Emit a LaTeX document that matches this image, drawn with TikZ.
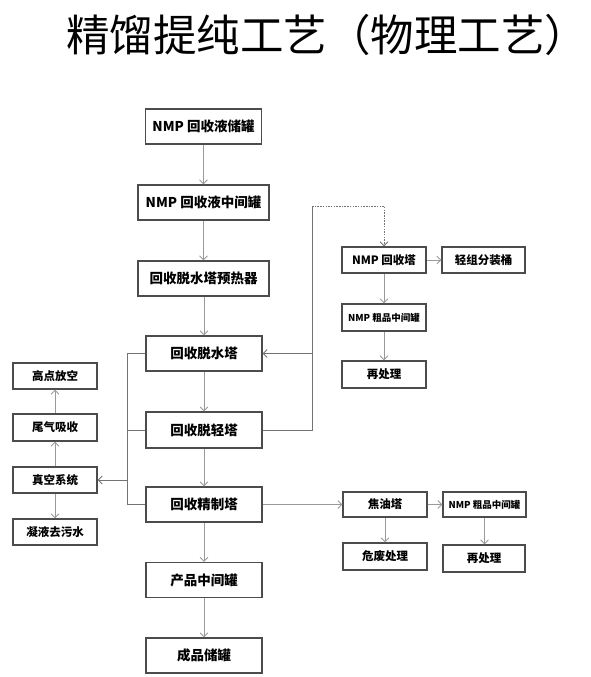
\documentclass[tikz,border=0pt]{standalone}
\usepackage{fontspec}
\newfontfamily\cjk{Noto Sans CJK SC}
\usetikzlibrary{arrows.meta}
\begin{document}
\begin{tikzpicture}[x=1pt,y=-1pt,
  box/.style={draw=black!70,line width=1.1pt,fill=white,inner sep=0pt,font=\cjk\bfseries\fontsize{13.5}{14}\selectfont},
  bigbox/.style={box,minimum width=116pt,minimum height=35pt},
  widebox/.style={box,minimum width=131pt,minimum height=35pt},
  smallbox/.style={box,minimum width=84pt,minimum height=26pt,font=\cjk\bfseries\fontsize{11.5}{12}\selectfont},
  tinytext/.style={font=\cjk\bfseries\fontsize{9.5}{10}\selectfont},
  conn/.style={draw=black!40,line width=0.9pt},
  link/.style={draw=black!55,line width=0.9pt},
  arr/.style={conn,-{Straight Barb[length=4pt,width=8pt,line width=0.9pt]}},
  larr/.style={link,-{Straight Barb[length=4pt,width=8pt,line width=0.9pt]}}
]
\useasboundingbox (0,0) rectangle (591,677);
\node[anchor=west,inner sep=0pt,font=\cjk\fontsize{43.5}{45}\selectfont] (title) at (66,35) {精馏提纯工艺（物理工艺）};

% main column
\node[bigbox] (b1) at (203.5,126.5) {NMP 回收液储罐};
\node[widebox] (b2) at (203.5,202.5) {NMP 回收液中间罐};
\node[widebox] (b3) at (203.5,278.5) {回收脱水塔预热器};
\node[bigbox] (b4) at (204,353.5) {回收脱水塔};
\node[bigbox,minimum height=36pt] (b5) at (204,430) {回收脱轻塔};
\node[bigbox] (b6) at (204,504.5) {回收精制塔};
\node[bigbox] (b7) at (204,580) {产品中间罐};
\node[bigbox] (b8) at (204,655.5) {成品储罐};

% left column
\node[smallbox] (l1) at (55,376) {高点放空};
\node[smallbox,minimum height=27pt] (l2) at (55,427.5) {尾气吸收};
\node[smallbox] (l3) at (55,480) {真空系统};
\node[smallbox] (l4) at (55,532) {凝液去污水};

% right top
\node[smallbox] (r1) at (384,260) {NMP 回收塔};
\node[smallbox,minimum width=83pt] (r2) at (483.5,260) {轻组分装桶};
\node[smallbox,minimum height=27pt,tinytext] (r3) at (384,317.5) {NMP 粗品中间罐};
\node[smallbox,minimum height=27pt] (r4) at (384,374.5) {再处理};

% right bottom
\node[smallbox,minimum height=25pt] (s1) at (385,504.5) {焦油塔};
\node[smallbox,minimum width=83pt,minimum height=25pt,tinytext] (s2) at (484.5,504.5) {NMP 粗品中间罐};
\node[smallbox,minimum height=27pt] (s3) at (385,556.5) {危废处理};
\node[smallbox,minimum width=82pt,minimum height=27pt] (s4) at (484,558.5) {再处理};

% main vertical flow
\draw[arr] (b1) -- (b2);
\draw[arr] (b2) -- (b3);
\draw[arr] (b3.south -| b4) -- (b4);
\draw[arr] (b4) -- (b5);
\draw[arr] (b5) -- (b6);
\draw[arr] (b6) -- (b7);
\draw[arr] (b7) -- (b8);

% return loop from light tower
\coordinate (j1) at (312,430);
\coordinate (j4) at (312,353.5);
\coordinate (j2) at (312,206);
\coordinate (j3) at (r1.north |- j2);
\draw[link] (b5.east) -- (j1) -- (j2);
\draw[larr] (j4) -- (b4.east);
\draw[link,dash pattern=on 1.5pt off 1.2pt,-{Straight Barb[length=4pt,width=8pt,line width=0.9pt]}] (j2) -- (j3) -- (r1.north);

\draw[arr] (r1) -- (r2);
\draw[arr] (r1) -- (r3);
\draw[arr] (r3) -- (r4);

% vacuum bracket
\coordinate (k1) at (127,353.5);
\coordinate (k2) at (127,430);
\coordinate (k3) at (127,504.5);
\coordinate (k4) at (127,480);
\draw[link] (b4.west) -- (k1) -- (k3) -- (b6.west);
\draw[link] (b5.west) -- (k2);
\draw[larr] (k4) -- (l3.east);
\draw[arr] (l3) -- (l2);
\draw[arr] (l2) -- (l1);
\draw[arr] (l3) -- (l4);

% refining outputs
\draw[arr] (b6) -- (s1);
\draw[arr] (s1) -- (s2);
\draw[arr] (s1) -- (s3);
\draw[arr] (s2.south) -- (s2.south |- s4.north);
\end{tikzpicture}
\end{document}
